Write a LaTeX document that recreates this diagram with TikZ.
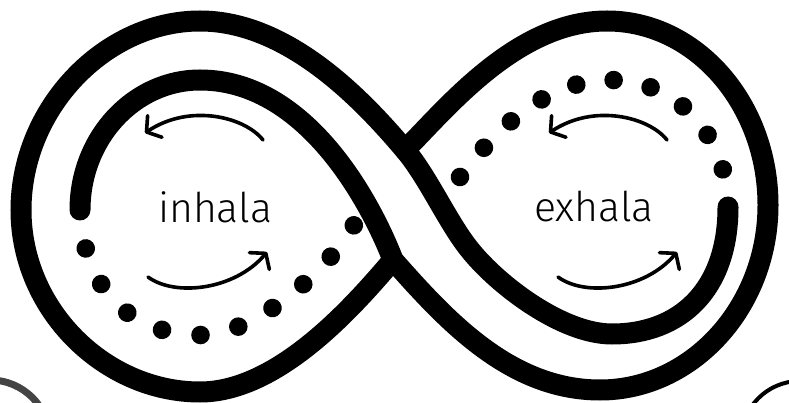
\documentclass[tikz,border=0pt]{standalone}
\usepackage{fontspec}
\newfontfamily\lightsans{Fira Sans Light}
\usetikzlibrary{arrows.meta,decorations.markings}
\definecolor{ringgray}{HTML}{444444}
\tikzset{
  band/.style={
    line width=21pt,
    line cap=round
  },
  dotrow/.style={
    decoration={markings,
      mark=between positions 0 and 1 step 0.0999 with {\fill circle (9.3pt);}},
    postaction=decorate
  },
  breath/.style={
    line width=3.6pt,
    line cap=round,
    -{Straight Barb[length=10pt,width=26pt,round]}
  },
  word/.style={
    anchor=base,
    font=\lightsans\fontsize{41pt}{41pt}\selectfont
  },
  ring/.style={line width=#1}
}

\begin{document}
\begin{tikzpicture}[x=1pt, y=-1pt]
\useasboundingbox (0,0) rectangle (789,403);

% where one strand dips under the band
\coordinate (jtop) at (405,150);
\coordinate (jbot) at (393,260);

% dotted halves
\path[dotrow] (80,210) .. controls (82,270) and (115,335) .. (201,335)
  .. controls (255,335) and (328,270) .. (354,225);
\path[dotrow] (460,177) .. controls (510,110) and (560,80) .. (610,80)
  .. controls (680,80) and (728,140) .. (728,207);

% left outer, band top edge, right inner
\draw[band] (728,207) .. controls (728,290) and (680,334) .. (612,334)
  .. controls (562,334) and (498,285) .. (470,250)
  .. controls (448,223) and (428,177) .. (jtop)
  .. controls (366,104) and (290,21) .. (200,21)
  .. controls (105,21) and (21,108) .. (21,210)
  .. controls (21,310) and (105,392) .. (200,392)
  .. controls (280,392) and (357,302) .. (jbot);

% left inner, band bottom edge, right outer
\draw[band] (80,210) .. controls (80,138) and (134,80) .. (200,80)
  .. controls (320,80) and (384,236) .. (jbot)
  .. controls (446,320) and (510,390) .. (600,390)
  .. controls (692,390) and (768,307) .. (768,205)
  .. controls (768,104) and (696,21) .. (607,21)
  .. controls (517,21) and (447,108) .. (jtop);

% labels
\node[word] (inhala) at (215,223) {inhala};
\node[word] (exhala) at (594,222) {exhala};

% arrows
\draw[breath] (263,140) .. controls (245,117) and (190,103) .. (145,133);
\draw[breath] (148,277) .. controls (175,297) and (235,290) .. (267,252);
\begin{scope}[xshift=404pt]
\draw[breath] (263,140) .. controls (245,117) and (190,103) .. (145,133);
\end{scope}
\begin{scope}[xshift=410pt]
\draw[breath] (148,277) .. controls (175,297) and (235,290) .. (267,252);
\end{scope}

% corner rings
\draw[ring=7pt, ringgray] (-10,440) circle (60pt);
\draw[ring=4pt] (800,440) circle (59pt);

\end{tikzpicture}
\end{document}
